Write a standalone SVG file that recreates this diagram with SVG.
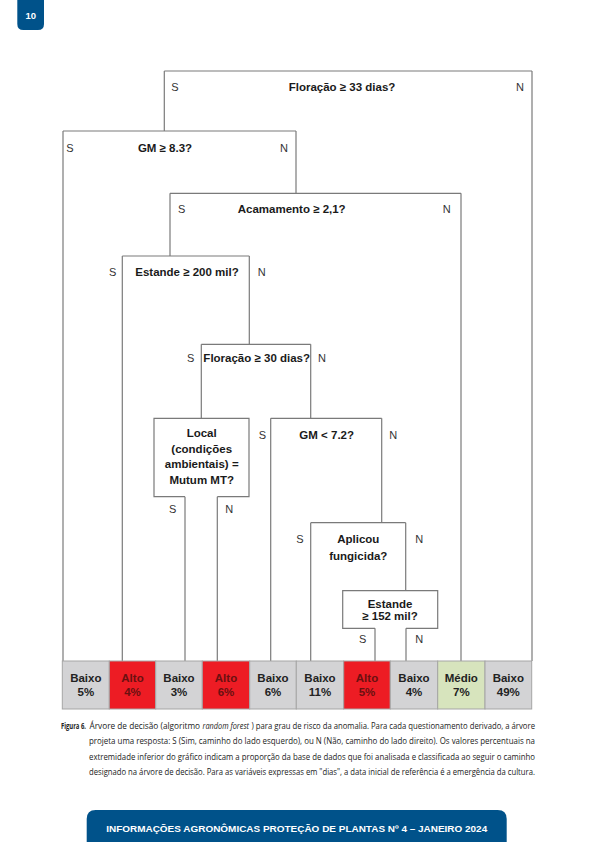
<svg xmlns="http://www.w3.org/2000/svg" width="595" height="842" viewBox="0 0 595 842">
<style>
  .ln{fill:none;stroke:#7a7a7a;stroke-width:1.2}
  .q{font-family:"Liberation Sans",Arial,sans-serif;font-weight:bold;font-size:11.5px;fill:#1a1a1a;text-anchor:middle}
  .sn{font-family:"Liberation Sans",Arial,sans-serif;font-size:11px;fill:#333;text-anchor:middle}
  .leaf{stroke:#a5a5a5;stroke-width:1}
  .g{fill:#d3d3d5}.r{fill:#ed1c24}.m{fill:#d7e4bd}
  .lt{font-family:"Liberation Sans",Arial,sans-serif;font-weight:bold;font-size:11.5px;fill:#222;text-anchor:middle}
  .lt2{font-family:"Liberation Sans",Arial,sans-serif;font-weight:bold;font-size:11.5px;fill:#6a1010;text-anchor:middle}
  .cap{font-family:"Open Sans","Noto Sans",sans-serif;font-size:8.6px;fill:#222}
</style>
<rect width="595" height="842" fill="#fff"/>
<g id="page-tab">
  <path d="M17.3,0 H44 V24 Q44,30 38,30 H23.3 Q17.3,30 17.3,24 Z" fill="#00528a"/>
  <text x="30.7" y="18.8" font-family="Liberation Sans,Arial,sans-serif" font-weight="bold" font-size="9.5px" fill="#fff" text-anchor="middle">10</text>
</g>
<g id="connectors" class="ln">
  <path d="M164.3,71 V131"/>
  <path d="M532,71 V661"/>
  <path d="M63,131 V661"/>
  <path d="M296,131 V193.3"/>
  <path d="M170,193.3 V256"/>
  <path d="M461,193.3 V661"/>
  <path d="M122.3,256 V661"/>
  <path d="M249.3,256 V344.3"/>
  <path d="M201.3,344.3 V418.3"/>
  <path d="M310.7,344.3 V418.3"/>
  <path d="M185,496.7 V661"/>
  <path d="M217.3,496.7 V661"/>
  <path d="M270.7,418.3 V661"/>
  <path d="M381.7,418.3 V522.7"/>
  <path d="M310.7,522.7 V661"/>
  <path d="M405.7,522.7 V590.7"/>
  <path d="M375,628.3 V661"/>
  <path d="M406,628.3 V661"/>
</g>
<g id="node-floracao33">
  <path class="ln" d="M164.3,71 H532"/>
  <text class="sn" x="175" y="91">S</text>
  <text class="q" x="342" y="91">Floração ≥ 33 dias?</text>
  <text class="sn" x="520" y="91">N</text>
</g>
<g id="node-gm83">
  <path class="ln" d="M63,131 H296"/>
  <text class="sn" x="70" y="152">S</text>
  <text class="q" x="165" y="152">GM ≥ 8.3?</text>
  <text class="sn" x="284" y="152">N</text>
</g>
<g id="node-acamamento">
  <path class="ln" d="M170,193.3 H461"/>
  <text class="sn" x="181.7" y="213">S</text>
  <text class="q" x="291.7" y="213">Acamamento ≥ 2,1?</text>
  <text class="sn" x="446.7" y="213">N</text>
</g>
<g id="node-estande200">
  <path class="ln" d="M122.3,256 H249.3"/>
  <text class="sn" x="112.7" y="276">S</text>
  <text class="q" x="187" y="276">Estande ≥ 200 mil?</text>
  <text class="sn" x="261.7" y="276">N</text>
</g>
<g id="node-floracao30">
  <path class="ln" d="M201.3,344.3 H310.7"/>
  <text class="sn" x="190.7" y="362">S</text>
  <text class="q" x="256.7" y="362">Floração ≥ 30 dias?</text>
  <text class="sn" x="322" y="362">N</text>
</g>
<g id="node-local">
  <path class="ln" d="M185,496.7 H154 V418.3 H249 V496.7 H217.3"/>
  <text class="q" x="201.7" y="437.3">Local</text>
  <text class="q" x="201.7" y="452.5">(condições</text>
  <text class="q" x="201.7" y="468">ambientais) =</text>
  <text class="q" x="201.7" y="484">Mutum MT?</text>
  <text class="sn" x="172.7" y="513">S</text>
  <text class="sn" x="229.3" y="513">N</text>
</g>
<g id="node-gm72">
  <path class="ln" d="M270.7,418.3 H381.7"/>
  <text class="sn" x="262.3" y="439">S</text>
  <text class="q" x="326.7" y="439">GM &lt; 7.2?</text>
  <text class="sn" x="393.3" y="439">N</text>
</g>
<g id="node-aplicou">
  <path class="ln" d="M310.7,522.7 H405.7"/>
  <text class="sn" x="300" y="543">S</text>
  <text class="q" x="358.3" y="543">Aplicou</text>
  <text class="q" x="358.3" y="559.5">fungicida?</text>
  <text class="sn" x="419.3" y="543">N</text>
</g>
<g id="node-estande152">
  <path class="ln" d="M375,628.3 H342.7 V590.7 H437.7 V628.3 H406"/>
  <text class="q" x="390" y="608.3">Estande</text>
  <text class="q" x="390" y="620">≥ 152 mil?</text>
  <text class="sn" x="362.7" y="643">S</text>
  <text class="sn" x="419.3" y="643">N</text>
</g>
<g id="leaves">
  <g id="leaf1"><rect class="leaf g" x="62.3" y="661" width="47" height="48"/><text class="lt" x="85.8" y="682">Baixo</text><text class="lt" x="85.8" y="696">5%</text></g>
  <g id="leaf2"><rect class="leaf r" x="109.3" y="661" width="46.4" height="48"/><text class="lt2" x="132.5" y="682">Alto</text><text class="lt2" x="132.5" y="696">4%</text></g>
  <g id="leaf3"><rect class="leaf g" x="155.7" y="661" width="46.6" height="48"/><text class="lt" x="179" y="682">Baixo</text><text class="lt" x="179" y="696">3%</text></g>
  <g id="leaf4"><rect class="leaf r" x="202.3" y="661" width="47.4" height="48"/><text class="lt2" x="226" y="682">Alto</text><text class="lt2" x="226" y="696">6%</text></g>
  <g id="leaf5"><rect class="leaf g" x="249.7" y="661" width="46.6" height="48"/><text class="lt" x="273" y="682">Baixo</text><text class="lt" x="273" y="696">6%</text></g>
  <g id="leaf6"><rect class="leaf g" x="296.3" y="661" width="47.4" height="48"/><text class="lt" x="320" y="682">Baixo</text><text class="lt" x="320" y="696">11%</text></g>
  <g id="leaf7"><rect class="leaf r" x="343.7" y="661" width="46.6" height="48"/><text class="lt2" x="367" y="682">Alto</text><text class="lt2" x="367" y="696">5%</text></g>
  <g id="leaf8"><rect class="leaf g" x="390.3" y="661" width="47.4" height="48"/><text class="lt" x="414" y="682">Baixo</text><text class="lt" x="414" y="696">4%</text></g>
  <g id="leaf9"><rect class="leaf m" x="437.7" y="661" width="47.3" height="48"/><text class="lt" x="461.3" y="682">Médio</text><text class="lt" x="461.3" y="696">7%</text></g>
  <g id="leaf10"><rect class="leaf g" x="485" y="661" width="46.7" height="48"/><text class="lt" x="508.3" y="682">Baixo</text><text class="lt" x="508.3" y="696">49%</text></g>
</g>
<g id="caption" class="cap">
  <text x="61" y="728.8" font-weight="bold" textLength="25" lengthAdjust="spacingAndGlyphs">Figura 6.</text>
  <text x="89.5" y="728.8" textLength="110.5" lengthAdjust="spacingAndGlyphs">Árvore de decisão (algoritmo</text>
  <text x="202.5" y="728.8" font-style="italic" textLength="46.5" lengthAdjust="spacingAndGlyphs">random forest</text>
  <text x="251.5" y="728.8" textLength="283.5" lengthAdjust="spacingAndGlyphs">) para grau de risco da anomalia. Para cada questionamento derivado, a árvore</text>
  <text x="89" y="744.2" textLength="446" lengthAdjust="spacingAndGlyphs">projeta uma resposta: S (Sim, caminho do lado esquerdo), ou N (Não, caminho do lado direito). Os valores percentuais na</text>
  <text x="89" y="759.8" textLength="446" lengthAdjust="spacingAndGlyphs">extremidade inferior do gráfico indicam a proporção da base de dados que foi analisada e classificada ao seguir o caminho</text>
  <text x="89" y="775.4" textLength="446" lengthAdjust="spacingAndGlyphs">designado na árvore de decisão. Para as variáveis expressas em "dias", a data inicial de referência é a emergência da cultura.</text>
</g>
<g id="footer">
  <path d="M86.7,842 V819 Q86.7,810 95.7,810 H497.7 Q506.7,810 506.7,819 V842 Z" fill="#00528a"/>
  <text x="296.7" y="832" font-family="Liberation Sans,Arial,sans-serif" font-weight="bold" font-size="9.5px" fill="#fff" text-anchor="middle" textLength="381" lengthAdjust="spacingAndGlyphs">INFORMAÇÕES AGRONÔMICAS PROTEÇÃO DE PLANTAS Nº 4 – JANEIRO 2024</text>
</g>
</svg>
